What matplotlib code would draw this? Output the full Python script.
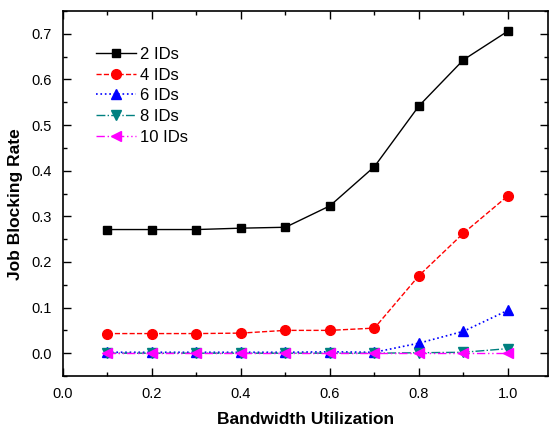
import matplotlib
matplotlib.use("Agg")
import matplotlib.pyplot as plt
from matplotlib.ticker import MultipleLocator

plt.rcParams['font.family'] = ['Liberation Sans', 'DejaVu Sans']

util = [0.1, 0.2, 0.3, 0.4, 0.5, 0.6, 0.7, 0.8, 0.9, 1.0]
ids2 = [0.271, 0.271, 0.271, 0.274, 0.276, 0.323, 0.409, 0.542, 0.643, 0.706]
ids4 = [0.043, 0.043, 0.043, 0.044, 0.050, 0.050, 0.055, 0.170, 0.263, 0.345]
ids6 = [0.002, 0.002, 0.002, 0.002, 0.002, 0.003, 0.002, 0.022, 0.048, 0.094]
ids8 = [0.0, 0.0, 0.0, 0.0, 0.0, 0.0, 0.0, 0.001, 0.002, 0.010]
ids10 = [0.0, 0.0, 0.0, 0.0, 0.0, 0.0, 0.0, 0.0, 0.0, 0.0]

fig = plt.figure(figsize=(5.5, 4.3), dpi=100)
ax = fig.add_axes([63/550, 1 - 376/430, 485/550, 365/430])

ax.plot(util, ids2, color='black', ls='-', lw=1, marker='s', ms=6, label='2 IDs')
ax.plot(util, ids4, color='red', ls='--', lw=1, marker='o', ms=7, label='4 IDs')
ax.plot(util, ids6, color='blue', ls=':', lw=1.2, marker='^', ms=7.5, label='6 IDs')
ax.plot(util, ids8, color='#008080', ls='-.', lw=1, marker='v', ms=7.5, label='8 IDs')
ax.plot(util, ids10, color='magenta', ls=(0, (6, 2, 1, 2, 1, 2)), lw=1, marker='<', ms=7.5, label='10 IDs')

ax.set_xlim(0, 1.09)
ax.set_ylim(-0.05, 0.75)
ax.xaxis.set_major_locator(MultipleLocator(0.2))
ax.xaxis.set_minor_locator(MultipleLocator(0.1))
ax.yaxis.set_major_locator(MultipleLocator(0.1))
ax.yaxis.set_minor_locator(MultipleLocator(0.05))
ax.tick_params(which='both', direction='in', top=True, right=True, labelsize=10.5, width=1)
ax.tick_params(which='major', length=6, pad=8)
ax.tick_params(which='minor', length=3)
for s in ax.spines.values():
    s.set_linewidth(1.2)

ax.set_xlabel('Bandwidth Utilization', fontsize=12.5, fontweight='bold', labelpad=8)
ax.set_ylabel('Job Blocking Rate', fontsize=12.5, fontweight='bold')
ax.yaxis.set_label_coords(-0.082, 0.47)

ax.legend(loc='upper left', bbox_to_anchor=(0.055, 0.92), frameon=False, fontsize=12,
          handlelength=2.35, handletextpad=0.25, labelspacing=0.34, borderaxespad=0)

fig.savefig('out.png', dpi=100)
